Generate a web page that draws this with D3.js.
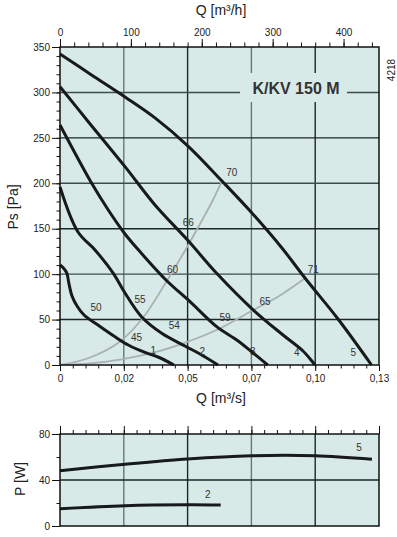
<!DOCTYPE html>
<html>
<head>
<meta charset="utf-8">
<script src="https://cdn.jsdelivr.net/npm/d3@7"></script>
<style>
  body { margin: 0; background: #fff; }
  svg { display: block; font-family: "Liberation Sans", Arial, sans-serif; }
</style>
</head>
<body>
<script>
// flow in m3/h, pressure in Pa, power in W
const fan1 = [[0,110.1],[4.2,107.3],[9.5,101.3],[12.7,89.2],[16.9,75.9],[24,64.9],[33.9,55],[53.6,44],[77.6,31.1],[96.3,22],[119.9,13.8],[138.2,8.8],[160.8,0]];
const fan2 = [[0,196],[25.4,146.4],[49.4,126.6],[75.2,100.9],[91.7,79.2],[115.3,52.8],[143.5,34.9],[176.3,20.9],[197.5,12.1],[222.9,0]];
const fan3 = [[0,264.2],[44.7,200],[68.1,170.6],[91.7,144.2],[115.7,122.2],[149.5,93.6],[183.4,69.7],[221,42.2],[249.3,27.5],[270.4,14.6],[293,0]];
const fan4 = [[0,306.3],[39.9,267.8],[91.7,218.3],[134,176.1],[180.6,137],[221,100.9],[272.7,60.5],[314.6,33],[342.8,15.4],[359.7,0]];
const fan5 = [[0,342.3],[45,319],[91.7,295],[134,272],[180.6,241],[228.5,202.5],[270.8,167.3],[313.1,128.8],[345.6,95.7],[392.2,50.6],[439.4,0]];
const fanCurves = [fan1, fan2, fan3, fan4, fan5];

const sysHigh = [[0,0],[39.5,7.4],[81.8,24.2],[115.7,50.6],[152.4,94.7],[177.7,127.7],[197.5,155.2],[215.8,181.6],[228.1,201.7]];
const sysLow = [[0,0],[42.3,1.8],[87,6.3],[131.2,13.5],[173.9,23.9],[221,38.5],[272.7,60.5],[310.3,76.5],[345.6,95.4]];

const pow2 = [[0,15],[91.7,17.7],[180.1,18.5],[226.7,18.3]];
const pow5 = [[0,48.1],[91.7,53.7],[180.1,58.3],[270.4,61.1],[359.7,61.1],[440,58]];

const curveLabels = [
  ['70',242.2,212.1],['66',181,156.6],['60',158.7,105.3],['55',112.9,72.2],['50',50.8,63],
  ['45',108.1,30.1],['54',161.2,43.2],['1',131.6,15.7],['59',232.7,52.5],['65',289.2,70.4],
  ['2',200.7,14.5],['3',271.8,14.5],['71',357.4,105.3],['4',333.9,13.9],['5',413.7,13.9]
];
const powLabels = [['5',421.8,68.1],['2',208.4,27]];

const qhTicks = [0,100,200,300,400];
const qsTickVals = [0,90,180,270,360,450];
const qsTickLabels = ['0','0,02','0,05','0,07','0,10','0,13'];
const psTicks = [0,50,100,150,200,250,300,350];
const pTicks = [0,40,80];

const bg = '#d8eae8';
const dark = '#1c2626';
const mid = '#66787a';

const svg = d3.select('body').append('svg')
  .attr('width', 397)
  .attr('height', 537);

const x = d3.scaleLinear().domain([0, 450]).range([60, 379]);
const y = d3.scaleLinear().domain([0, 350]).range([365, 47]);
const yP = d3.scaleLinear().domain([0, 80]).range([526, 434]);

const line = yS => d3.line()
  .x(d => x(d[0]))
  .y(d => yS(d[1]))
  .curve(d3.curveCatmullRom.alpha(0.5));

const noDomain = g => g.select('.domain').remove();

function panel(yS, hGrid, hColor) {
  const g = svg.append('g');
  g.append('rect')
    .attr('x', x(0)).attr('y', yS.range()[1])
    .attr('width', x(450) - x(0)).attr('height', yS.range()[0] - yS.range()[1])
    .attr('fill', bg);
  g.selectAll('.vg').data(qsTickVals.slice(1, -1)).enter().append('line')
    .attr('x1', d => x(d)).attr('x2', d => x(d))
    .attr('y1', yS.range()[0]).attr('y2', yS.range()[1])
    .attr('stroke', (d, i) => i % 2 ? dark : mid)
    .attr('stroke-width', 1.4);
  g.selectAll('.hg').data(hGrid).enter().append('line')
    .attr('x1', x(0)).attr('x2', x(450))
    .attr('y1', d => yS(d)).attr('y2', d => yS(d))
    .attr('stroke', hColor)
    .attr('stroke-width', 1.4);
  return g;
}

// top chart
panel(y, psTicks.slice(1, -1), d => d % 100 ? dark : '#3e4c4c');

// title box over the grid
svg.append('rect')
  .attr('x', 240).attr('y', 73).attr('width', 107).attr('height', 29)
  .attr('fill', bg);
svg.append('text')
  .attr('x', 296).attr('y', 94)
  .attr('text-anchor', 'middle')
  .attr('font-size', 16).attr('font-weight', 'bold')
  .attr('fill', '#333')
  .text('K/KV 150 M');

[sysHigh, sysLow].forEach(s => {
  svg.append('path')
    .attr('d', line(y)(s))
    .attr('fill', 'none')
    .attr('stroke', '#a9b1b1')
    .attr('stroke-width', 1.8);
});

fanCurves.forEach(c => {
  svg.append('path')
    .attr('d', line(y)(c))
    .attr('fill', 'none')
    .attr('stroke', '#161a1a')
    .attr('stroke-width', 3);
});

svg.append('rect')
  .attr('x', x(0)).attr('y', y(350))
  .attr('width', x(450) - x(0)).attr('height', y(0) - y(350))
  .attr('fill', 'none').attr('stroke', '#111').attr('stroke-width', 1.5);

svg.selectAll('.clab').data(curveLabels).enter().append('text')
  .attr('x', d => x(d[1])).attr('y', d => y(d[2]))
  .attr('dy', '0.35em')
  .attr('text-anchor', 'middle')
  .attr('font-size', 10)
  .attr('fill', '#333')
  .text(d => d[0]);

// axes of the top chart
svg.append('g')
  .attr('transform', `translate(0,${y(350)})`)
  .attr('color', '#111')
  .attr('font-size', 13)
  .call(d3.axisTop(x).tickValues(qhTicks).tickSize(8).tickPadding(3).tickFormat(d3.format('d')))
  .call(noDomain);
svg.append('g')
  .attr('transform', `translate(0,${y(350)})`)
  .attr('color', '#111')
  .call(d3.axisTop(x).tickValues(d3.range(0, 450, 20)).tickSize(4.5).tickFormat(''))
  .call(noDomain);

svg.append('g')
  .attr('transform', `translate(${x(0)},0)`)
  .attr('color', '#111')
  .attr('font-size', 13)
  .call(d3.axisLeft(y).tickValues(psTicks).tickSize(8).tickPadding(2))
  .call(noDomain);
svg.append('g')
  .attr('transform', `translate(${x(0)},0)`)
  .attr('color', '#111')
  .call(d3.axisLeft(y).tickValues(d3.range(0, 351, 10)).tickSize(3.5).tickFormat(''))
  .call(noDomain);

svg.append('g')
  .attr('transform', `translate(0,${y(0)})`)
  .attr('color', '#111')
  .attr('font-size', 13)
  .call(d3.axisBottom(x).tickValues(qsTickVals).tickSize(6).tickPadding(4).tickFormat((d, i) => qsTickLabels[i]))
  .call(noDomain);
svg.append('g')
  .attr('transform', `translate(0,${y(0)})`)
  .attr('color', '#111')
  .call(d3.axisBottom(x).tickValues(d3.range(0, 451, 18)).tickSize(3.5).tickFormat(''))
  .call(noDomain);

// bottom chart
panel(yP, [40], dark);

[pow2, pow5].forEach(c => {
  svg.append('path')
    .attr('d', line(yP)(c))
    .attr('fill', 'none')
    .attr('stroke', '#161a1a')
    .attr('stroke-width', 3);
});

svg.append('rect')
  .attr('x', x(0)).attr('y', yP(80))
  .attr('width', x(450) - x(0)).attr('height', yP(0) - yP(80))
  .attr('fill', 'none').attr('stroke', '#111').attr('stroke-width', 1.5);

svg.selectAll('.plab').data(powLabels).enter().append('text')
  .attr('x', d => x(d[1])).attr('y', d => yP(d[2]))
  .attr('dy', '0.35em')
  .attr('text-anchor', 'middle')
  .attr('font-size', 10)
  .attr('fill', '#333')
  .text(d => d[0]);

svg.append('g')
  .attr('transform', `translate(0,${yP(80)})`)
  .attr('color', '#111')
  .call(d3.axisTop(x).tickValues(qsTickVals).tickSize(8).tickFormat(''))
  .call(noDomain);
svg.append('g')
  .attr('transform', `translate(0,${yP(80)})`)
  .attr('color', '#111')
  .call(d3.axisTop(x).tickValues(d3.range(0, 451, 18)).tickSize(4).tickFormat(''))
  .call(noDomain);

svg.append('g')
  .attr('transform', `translate(${x(0)},0)`)
  .attr('color', '#111')
  .attr('font-size', 13)
  .call(d3.axisLeft(yP).tickValues(pTicks).tickSize(8).tickPadding(2))
  .call(noDomain);
svg.append('g')
  .attr('transform', `translate(${x(0)},0)`)
  .attr('color', '#111')
  .call(d3.axisLeft(yP).tickValues([20, 60]).tickSize(3.5).tickFormat(''))
  .call(noDomain);

svg.selectAll('.tick text').attr('fill', '#222');

// axis titles
const title = (t, tx, ty, rot, size) => svg.append('text')
  .attr('transform', `translate(${tx},${ty}) rotate(${rot})`)
  .attr('text-anchor', 'middle')
  .attr('font-size', size)
  .attr('fill', '#222')
  .text(t);

title('Q [m³/h]', 221, 15, 0, 14);
title('Q [m³/s]', 221, 403, 0, 14);
title('Ps [Pa]', 18, 207, -90, 14);
title('P [W]', 25, 479, -90, 14);
title('4218', 395, 70, -90, 10);
</script>
</body>
</html>
